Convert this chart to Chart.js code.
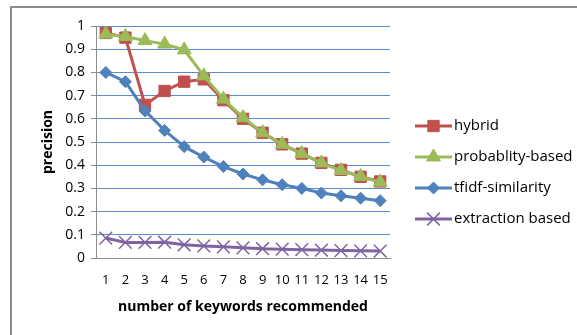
<!DOCTYPE html>
<html>
<head>
<meta charset="utf-8">
<script src="https://cdn.jsdelivr.net/npm/chart.js@4/dist/chart.umd.min.js"></script>
<style>
  html, body { margin: 0; padding: 0; background: #fff; }
  #wrap { position: relative; width: 577px; height: 335px; }
</style>
</head>
<body>
<div id="wrap"><canvas id="c" width="577" height="335"></canvas></div>
<script>
// Keywords recommended (x categories)
const categories = ['1','2','3','4','5','6','7','8','9','10','11','12','13','14','15'];

// Precision per method
const hybrid      = [0.97, 0.95, 0.66, 0.72, 0.76, 0.77, 0.68, 0.60, 0.54, 0.49, 0.45, 0.41, 0.38, 0.35, 0.33];
const probability = [0.965, 0.955, 0.937, 0.922, 0.897, 0.785, 0.685, 0.605, 0.54, 0.49, 0.45, 0.41, 0.377, 0.351, 0.327];
const tfidf       = [0.80, 0.76, 0.634, 0.55, 0.48, 0.435, 0.394, 0.362, 0.337, 0.316, 0.30, 0.28, 0.268, 0.258, 0.247];
const extraction  = [0.086, 0.067, 0.067, 0.068, 0.057, 0.052, 0.048, 0.044, 0.04, 0.038, 0.036, 0.034, 0.032, 0.031, 0.03];

const seriesLabels = ['hybrid', 'probablity-based', 'tfidf-similarity', 'extraction based'];
const yTickLabels = ['0','0.1','0.2','0.3','0.4','0.5','0.6','0.7','0.8','0.9','1'];

const FONT = "'Open Sans', 'DejaVu Sans', sans-serif";

// Later series are painted over earlier ones
function series(label, data, color, style, radius, order) {
  return {
    label, data, order,
    borderColor: color, backgroundColor: color,
    borderWidth: 3,
    pointStyle: style, pointRadius: radius, pointHoverRadius: radius,
    pointBorderColor: color, pointBackgroundColor: color,
    pointBorderWidth: style === 'crossRot' ? 1.5 : 1,
    tension: 0
  };
}

// Outer frame (top and left edges visible)
const framePlugin = {
  id: 'frame',
  beforeDraw(chart) {
    const ctx = chart.ctx;
    ctx.save();
    ctx.fillStyle = '#fff';
    ctx.fillRect(0, 0, chart.width, chart.height);
    ctx.strokeStyle = '#8c8c8c';
    ctx.lineWidth = 2;
    ctx.beginPath();
    ctx.moveTo(11, chart.height);
    ctx.lineTo(11, 7);
    ctx.lineTo(chart.width, 7);
    ctx.stroke();
    ctx.restore();
  }
};

// Legend on the right: line sample with marker, then label
const legendPlugin = {
  id: 'sideLegend',
  afterDraw(chart) {
    const ctx = chart.ctx;
    const x0 = 415, x1 = 452, ys = [126, 157, 188, 219];
    ctx.save();
    chart.data.datasets.forEach((ds, i) => {
      const y = ys[i];
      ctx.strokeStyle = ds.borderColor;
      ctx.lineWidth = 3;
      ctx.beginPath(); ctx.moveTo(x0, y); ctx.lineTo(x1, y); ctx.stroke();
      ctx.fillStyle = ds.borderColor;
      ctx.strokeStyle = ds.borderColor;
      ctx.lineWidth = ds.pointBorderWidth;
      Chart.helpers.drawPoint(ctx, {
        pointStyle: ds.pointStyle, radius: ds.pointRadius, rotation: 0, borderWidth: ds.pointBorderWidth
      }, (x0 + x1) / 2, y);
      ctx.fillStyle = '#000';
      ctx.font = '15px ' + FONT;
      ctx.textBaseline = 'middle';
      ctx.textAlign = 'left';
      ctx.fillText(ds.label, x1 + 2, y);
    });
    ctx.restore();
  }
};

new Chart(document.getElementById('c'), {
  type: 'line',
  data: {
    labels: categories,
    datasets: [
      series(seriesLabels[0], hybrid, '#C0504D', 'rect', 8, 4),
      series(seriesLabels[1], probability, '#9BBB59', 'triangle', 8, 3),
      series(seriesLabels[2], tfidf, '#4F81BD', 'rectRot', 6, 2),
      series(seriesLabels[3], extraction, '#8064A2', 'crossRot', 9, 1)
    ]
  },
  options: {
    responsive: false,
    animation: false,
    layout: { padding: { top: 26, right: 187, left: 36, bottom: 16 } },
    plugins: { legend: { display: false }, tooltip: { enabled: false } },
    scales: {
      x: {
        offset: true,
        grid: { display: false, drawTicks: false },
        border: { color: '#8c8c8c', width: 1 },
        ticks: { color: '#000', font: { family: FONT, size: 13 }, padding: 14, maxRotation: 0, autoSkip: false },
        title: { display: true, text: 'number of keywords recommended', color: '#000',
                 font: { family: FONT, size: 14, weight: 'bold' }, padding: { top: 8 } },
        afterFit(s) { s.height = 61; }
      },
      y: {
        min: 0, max: 1,
        ticks: { stepSize: 0.1, color: '#000', font: { family: FONT, size: 14 }, padding: 6,
                 callback: (v, i) => yTickLabels[i] },
        grid: { color: '#5b8ccb', lineWidth: 1, tickLength: 5, tickColor: '#8c8c8c' },
        border: { color: '#8c8c8c', width: 1 },
        title: { display: true, text: 'precision', color: '#000',
                 font: { family: FONT, size: 14, weight: 'bold' }, padding: { bottom: 2 } },
        afterFit(s) { s.width = 60; }
      }
    }
  },
  plugins: [framePlugin, legendPlugin]
});
</script>
</body>
</html>
